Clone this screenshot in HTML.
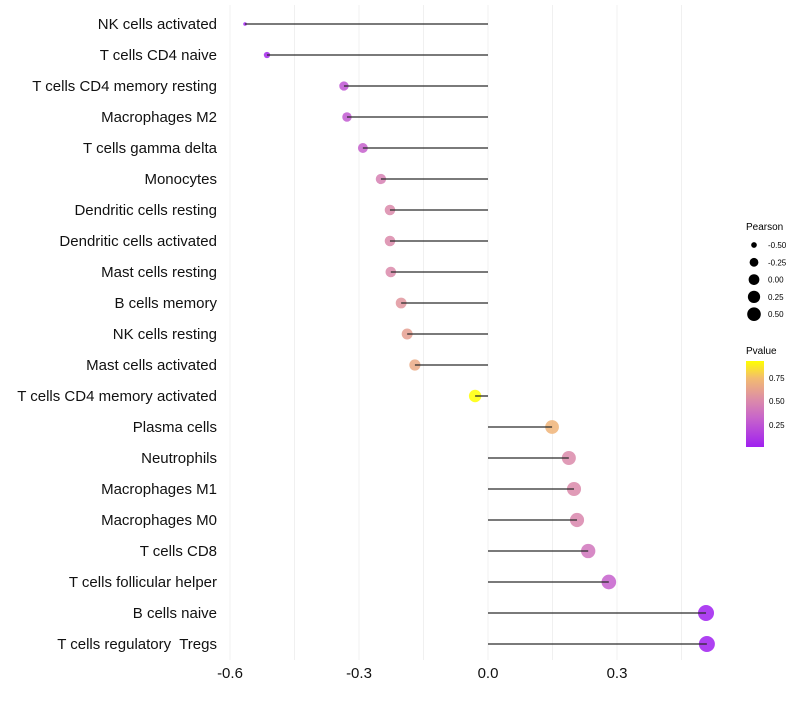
<!DOCTYPE html>
<html><head><meta charset="utf-8"><style>
body{margin:0;background:#fff;}
svg text{font-family:"Liberation Sans",Arial,sans-serif;white-space:pre;}
</style></head><body>
<svg id="c" width="800" height="700" xmlns="http://www.w3.org/2000/svg">
<defs><linearGradient id="pg" x1="0" y1="1" x2="0" y2="0">
<stop offset="0" stop-color="#a020f0"/><stop offset="0.35" stop-color="#c967c9"/><stop offset="0.55" stop-color="#dc8ca8"/><stop offset="0.8" stop-color="#f3bb70"/><stop offset="1" stop-color="#ffff00"/></linearGradient></defs>
<g id="grid"></g><g id="marks"></g><g id="labels"></g><g id="xt"></g>
<g>
<text x="746" y="230" font-size="10">Pearson</text>
<g id="sz"></g>
<text x="746" y="354" font-size="10">Pvalue</text>
<rect x="746" y="361" width="18" height="86" fill="url(#pg)"/>
<text x="769" y="381" font-size="8">0.75</text>
<text x="769" y="404" font-size="8">0.50</text>
<text x="769" y="428" font-size="8">0.25</text>
</g>
</svg>
<script>
const categories=["NK cells activated","T cells CD4 naive","T cells CD4 memory resting","Macrophages M2","T cells gamma delta","Monocytes","Dendritic cells resting","Dendritic cells activated","Mast cells resting","B cells memory","NK cells resting","Mast cells activated","T cells CD4 memory activated","Plasma cells","Neutrophils","Macrophages M1","Macrophages M0","T cells CD8","T cells follicular helper","B cells naive","T cells regulatory  Tregs"];
const pearson=[-0.565,-0.514,-0.335,-0.328,-0.291,-0.249,-0.228,-0.228,-0.226,-0.202,-0.188,-0.170,-0.030,0.149,0.188,0.200,0.207,0.233,0.281,0.507,0.509];
const pvalue=[0.02,0.05,0.25,0.27,0.3,0.45,0.5,0.5,0.5,0.55,0.6,0.65,0.91,0.7,0.5,0.5,0.48,0.4,0.3,0.02,0.02];
const xTicks=[-0.6,-0.3,0.0,0.3];
const xTickLabels=["-0.6","-0.3","0.0","0.3"];
const sizeLegend=[-0.5,-0.25,0,0.25,0.5];
const sizeLegendLabels=["-0.50","-0.25","0.00","0.25","0.50"];
const NS="http://www.w3.org/2000/svg";
const X=v=>488+v*430;
const Y=i=>24+i*31;
const R=v=>1.8+6.0*Math.sqrt(Math.max(0,v+0.565));
const stops=[[0,[160,32,240]],[0.35,[201,103,201]],[0.55,[220,140,168]],[0.8,[243,187,112]],[1,[255,255,0]]];
function col(p){let t=(p-0.02)/(0.91-0.02);t=Math.max(0,Math.min(1,t));
for(let k=1;k<stops.length;k++){if(t<=stops[k][0]){const a=stops[k-1],b=stops[k],f=(t-a[0])/(b[0]-a[0]);
return "rgb("+a[1].map((c,j)=>Math.round(c+(b[1][j]-c)*f)).join(",")+")";}}return "rgb(255,255,0)";}
function mk(t,a,p){const e=document.createElementNS(NS,t);for(const k in a)e.setAttribute(k,a[k]);p.appendChild(e);return e;}
const g=document.getElementById('grid');
for(let v=-0.6;v<=0.46;v+=0.15){const l=mk('line',{x1:X(v),x2:X(v),y1:5,y2:660,stroke:'#f0f0f0','stroke-width':1},g);

}
const m=document.getElementById('marks'),lb=document.getElementById('labels');
categories.forEach((c,i)=>{
const pt=mk('circle',{cx:X(pearson[i]),cy:Y(i),r:R(pearson[i]),fill:col(pvalue[i]),'fill-opacity':0.85},m);


const s=mk('line',{x1:X(0),x2:X(pearson[i]),y1:Y(i),y2:Y(i),stroke:'#2a2a2a','stroke-width':1.3},m);


const t=mk('text',{x:217,y:Y(i)+5,'font-size':15,'text-anchor':'end',fill:'#111'},lb);t.textContent=c;


});
const xt=document.getElementById('xt');
xTicks.forEach((v,i)=>{const t=mk('text',{x:X(v),y:678,'font-size':15,'text-anchor':'middle',fill:'#111'},xt);t.textContent=xTickLabels[i];

});
const sz=document.getElementById('sz');
sizeLegend.forEach((v,i)=>{const y=245+i*17.3;
const c=mk('circle',{cx:754,cy:y,r:R(v)*0.85,fill:'#000'},sz);


const t=mk('text',{x:768,y:y+3,'font-size':8},sz);t.textContent=sizeLegendLabels[i];

});
</script>
</body></html>
